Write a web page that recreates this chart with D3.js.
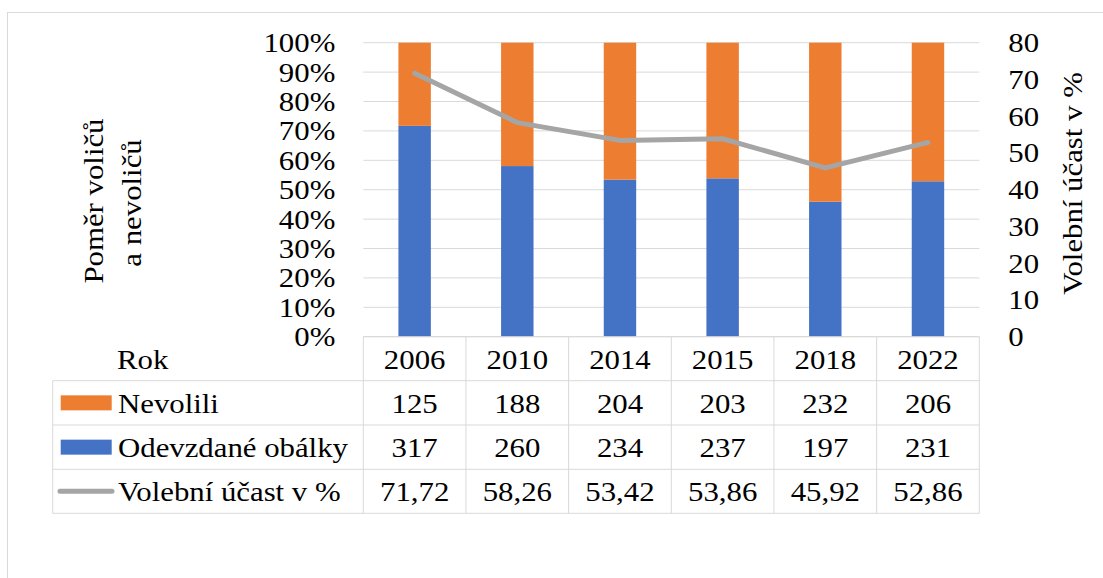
<!DOCTYPE html>
<html><head><meta charset="utf-8">
<script src="https://cdn.jsdelivr.net/npm/d3@7"></script>
<style>
html,body{margin:0;padding:0;background:#fff;}
svg{display:block;}
svg text{font-family:"Liberation Serif","Tinos","DejaVu Serif","Noto Serif","Times New Roman",serif;fill:#000;}
</style></head>
<body>
<svg id="chart" width="1103" height="578"></svg>
<script>
const years = ["2006","2010","2014","2015","2018","2022"];
const nevolili = [125,188,204,203,232,206];
const odevzdane = [317,260,234,237,197,231];
const ucast = [71.72,58.26,53.42,53.86,45.92,52.86];
const ucastLabels = ["71,72","58,26","53,42","53,86","45,92","52,86"];
const leftTicks = [0,0.1,0.2,0.3,0.4,0.5,0.6,0.7,0.8,0.9,1];
const rightTicks = [0,10,20,30,40,50,60,70,80];
const seriesNames = ["Nevolili","Odevzdané obálky","Volební účast v %"];
const colors = {nev:"#ED7D31", odv:"#4472C4", line:"#A5A5A5", grid:"#D9D9D9"};

const FONT = '"Liberation Serif","Tinos","DejaVu Serif","Noto Serif","Times New Roman",serif';
const svg = d3.select("#chart");
const FS = 28, SX = 1.1;
const L = 363.3, R = 979.3, T = 42.7, B = 336.7;

// helper: place a horizontally stretched text
function ptext(parent, px, py, str, anchor, rot){
  const r = rot ? ` rotate(${rot})` : "";
  return parent.append("text")
    .attr("transform",`translate(${px},${py})${r} scale(${SX},1)`)
    .attr("text-anchor",anchor||"start").style("font-size",FS+"px").text(str);
}

// outer frame
svg.append("rect").attr("x",7.5).attr("y",12.5).attr("width",1200).attr("height",700)
  .attr("fill","none").attr("stroke",colors.grid).attr("stroke-width",1);

const x = d3.scaleBand().domain(years).range([L,R]).padding(0);
const yL = d3.scaleLinear().domain([0,1]).range([B,T]);
const yR = d3.scaleLinear().domain([0,80]).range([B,T]);

// gridlines
svg.append("g").selectAll("line").data(leftTicks).join("line")
  .attr("x1",L).attr("x2",R).attr("y1",d=>yL(d)).attr("y2",d=>yL(d))
  .attr("stroke",colors.grid).attr("stroke-width",1);

// left axis labels
const padL = 28, padR = 29;
const axL = d3.axisLeft(yL).tickValues(leftTicks).tickFormat(d=>Math.round(d*100)+"%").tickSize(0).tickPadding(padL);
const gL = svg.append("g").attr("transform",`translate(${L},0)`).call(axL);
gL.attr("font-family",null).attr("font-size",null);
gL.select(".domain").remove();
gL.selectAll("text").style("font-size",FS+"px").style("font-family",FONT).attr("fill","#000")
  .attr("x",0).attr("transform",`translate(${-padL},0) scale(${SX},1)`);

// right axis labels
const axR = d3.axisRight(yR).tickValues(rightTicks).tickSize(0).tickPadding(padR);
const gR = svg.append("g").attr("transform",`translate(${R},0)`).call(axR);
gR.attr("font-family",null).attr("font-size",null);
gR.select(".domain").remove();
gR.selectAll("text").style("font-size",FS+"px").style("font-family",FONT).attr("fill","#000")
  .attr("x",0).attr("transform",`translate(${padR},0) scale(${SX},1)`);

// stacked bars
const bw = x.bandwidth()*0.316;
const totals = years.map((y,i)=>nevolili[i]+odevzdane[i]);
svg.append("g").selectAll("rect").data(years).join("rect")
  .attr("x",d=>x(d)+x.bandwidth()/2-bw/2).attr("width",bw)
  .attr("y",(d,i)=>yL(odevzdane[i]/totals[i])).attr("height",(d,i)=>B-yL(odevzdane[i]/totals[i]))
  .attr("fill",colors.odv);
svg.append("g").selectAll("rect").data(years).join("rect")
  .attr("x",d=>x(d)+x.bandwidth()/2-bw/2).attr("width",bw)
  .attr("y",yL(1)).attr("height",(d,i)=>yL(odevzdane[i]/totals[i])-yL(1))
  .attr("fill",colors.nev);

// line
const line = d3.line().x((d,i)=>x(years[i])+x.bandwidth()/2).y(d=>yR(d));
svg.append("path").datum(ucast).attr("d",line).attr("fill","none")
  .attr("stroke",colors.line).attr("stroke-width",5).attr("stroke-linejoin","round").attr("stroke-linecap","round");

// axis titles
ptext(svg,103,201,"Poměr voličů","middle",-90);
ptext(svg,141,203,"a nevoličů","middle",-90);
ptext(svg,1082,183.5,"Volební účast v %","middle",-90);

// data table
const rowTops = [336.7,380.7,425,469.3,513.3];
const TL = 52.7;
const tg = svg.append("g");
tg.append("line").attr("x1",L).attr("x2",R).attr("y1",rowTops[0]).attr("y2",rowTops[0]).attr("stroke",colors.grid);
rowTops.slice(1).forEach(yv=>{
  tg.append("line").attr("x1",TL).attr("x2",R).attr("y1",yv).attr("y2",yv).attr("stroke",colors.grid);
});
const vx = years.map(d=>x(d)).concat([R]);
vx.forEach(xv=>{
  tg.append("line").attr("x1",xv).attr("x2",xv).attr("y1",rowTops[0]).attr("y2",rowTops[4]).attr("stroke",colors.grid);
});
tg.append("line").attr("x1",TL).attr("x2",TL).attr("y1",rowTops[1]).attr("y2",rowTops[4]).attr("stroke",colors.grid);

const rowMid = i => (rowTops[i]+rowTops[i+1])/2;
const BASE = 0.36*FS;
const rows = [years, nevolili.map(String), odevzdane.map(String), ucastLabels];
rows.forEach((vals,ri)=>{
  vals.forEach((v,i)=>ptext(tg, x(years[i])+x.bandwidth()/2, rowMid(ri)+BASE, v, "middle"));
});
ptext(tg,117,rowMid(0)+BASE,"Rok","start");
seriesNames.forEach((n,i)=>ptext(tg,118,rowMid(i+1)+BASE,n,"start"));
tg.append("rect").attr("x",60.7).attr("y",rowMid(1)-7.5).attr("width",51).attr("height",15).attr("fill",colors.nev);
tg.append("rect").attr("x",60.7).attr("y",rowMid(2)-7.5).attr("width",51).attr("height",15).attr("fill",colors.odv);
tg.append("line").attr("x1",60).attr("x2",112).attr("y1",rowMid(3)).attr("y2",rowMid(3))
  .attr("stroke",colors.line).attr("stroke-width",5).attr("stroke-linecap","round");
</script>
</body></html>
